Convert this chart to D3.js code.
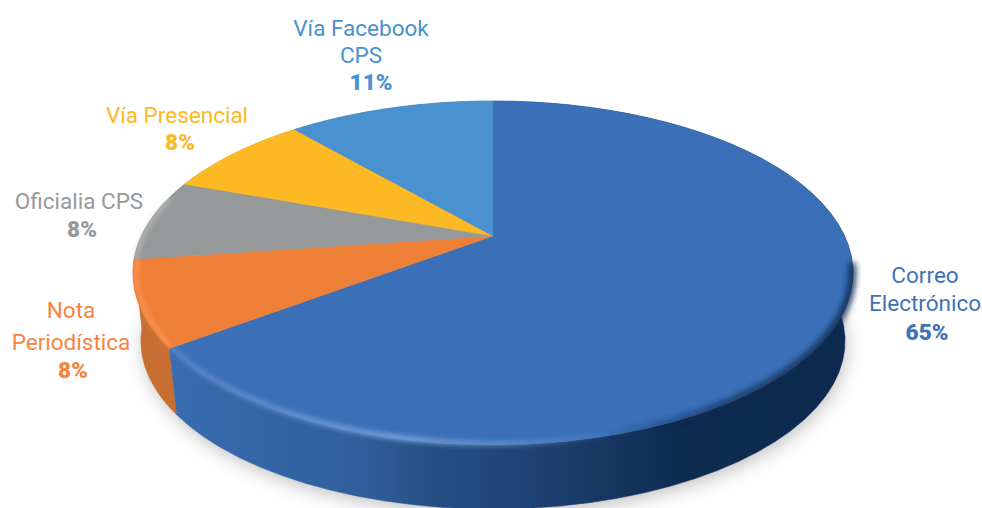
<!DOCTYPE html>
<html><head><meta charset="utf-8">
<script src="https://cdn.jsdelivr.net/npm/d3@7/dist/d3.min.js"></script>
<style>html,body{margin:0;background:#fff;overflow:hidden}svg{display:block}
text{font-family:"Roboto",sans-serif}</style></head>
<body><svg id="c" width="982" height="508"></svg>
<script>
const categories = ["Correo Electrónico","Nota Periodística","Oficialia CPS","Vía Presencial","Vía Facebook CPS"];
const values = [64.8,8.0,7.7,8.1,11.4];
const colors = ["#3b70b8","#ee7f37","#96999a","#fdb924","#4a91cf"];
const sideColors = ["url(#blueSide)","#c76f32","#7d8081","#c9921c","#3a74a8"];
const labelColors = ["#3f72b9","#f5843f","#96999a","#fdb924","#4a91cf"];
const labelLines = [["Correo","Electrónico"],["Nota","Periodística"],["Oficialia CPS"],["Vía Presencial"],["Vía Facebook","CPS"]];
const labelX = [925,71,79,177,361];
const labelY = [[283,311,340],[318,350,378],[209,237],[123,150],[36,63,90]];
const percentX = [927,73,82,180,371];

const W=982,H=508, cx=493, cy=236, A=351.6, B=164, k=0.215;
const midY=273, baseY=341, baseS=0.978;
const svg=d3.select("#c"), defs=svg.append("defs");

const top2=t=>{const u=Math.sin(t),v=Math.cos(t),d=1+k*v;return [cx+A*u/d,cy-B*v/d];};
const base=p=>[cx+baseS*(p[0]-cx),baseY+baseS*(p[1]-midY)];
const line=d3.line();
const arcs=d3.pie().sort(null)(values);
const samples=(a,b)=>d3.range(0,61).map(i=>a+(b-a)*i/60);

function grad(id,stops){
  const g=defs.append("linearGradient").attr("id",id).attr("gradientUnits","userSpaceOnUse")
    .attr("x1",130).attr("x2",860).attr("y1",0).attr("y2",0);
  stops.forEach(s=>g.append("stop").attr("offset",(s[0]-130)/730).attr("stop-color",s[1]).attr("stop-opacity",s[2]===undefined?1:s[2]));
}
grad("blueSide",[[170,"#3a6cb2"],[290,"#3263a4"],[370,"#2f5e9b"],[430,"#264f86"],[530,"#1f4274"],[600,"#183862"],[680,"#0e2b50"],[860,"#0d2a4e"]]);
grad("rimLight",[[170,"#7ea6de",.3],[300,"#7ea6de",.6],[400,"#7ea6de",.8],[510,"#7ea6de",.45],[620,"#7ea6de",0],[860,"#7ea6de",0]]);
grad("rimDark",[[600,"#0d2a4e",0],[720,"#0d2a4e",.8],[860,"#0d2a4e",1]]);
[["b1",9],["b2",2.2],["b3",3]].forEach(([id,s])=>defs.append("filter").attr("id",id)
  .attr("x","-10%").attr("y","-10%").attr("width","120%").attr("height","120%")
  .append("feGaussianBlur").attr("stdDeviation",s));

const full=samples(0,2*Math.PI);
// shadow
svg.append("path").attr("d",line(full.map(t=>{const p=base(top2(t));return [p[0]+2,p[1]+5];}))+"Z")
  .attr("fill","#a9a9a9").attr("opacity",.7).attr("filter","url(#b1)");

// sides, back to front
const order=[3,4,2,1,0];
svg.append("g").selectAll("path").data(order).join("path").attr("d",i=>{
  const a=arcs[i], pts=samples(a.startAngle,a.endAngle).map(top2);
  return line(pts.concat(pts.map(base).reverse()))+"Z";
}).attr("fill",i=>sideColors[i]).attr("stroke",i=>sideColors[i]).attr("stroke-width",.5);

// top faces
const apexed=a=>line([[cx,cy]].concat(samples(a.startAngle,a.endAngle).map(top2)))+"Z";
svg.append("g").selectAll("path").data(arcs).join("path").attr("d",apexed)
  .attr("fill",(d,i)=>colors[i]).attr("stroke",(d,i)=>colors[i]).attr("stroke-width",.4);

// bevel
const g=svg.append("g");
const inset=(s,t)=>{const p=top2(t);return [cx+s*(p[0]-cx),midY+s*(p[1]-midY)];};
const rimPath=(a,b,s)=>line(samples(a,b).map(t=>inset(s,t)));
const fr=arcs[0];
g.append("path").attr("d",rimPath(Math.PI*0.55,fr.endAngle,0.993)).attr("fill","none")
  .attr("stroke","url(#rimLight)").attr("stroke-width",6).attr("filter","url(#b2)");
g.append("path").attr("d",rimPath(Math.PI*0.55,Math.PI*1.1,0.998)).attr("fill","none")
  .attr("stroke","url(#rimDark)").attr("stroke-width",7).attr("filter","url(#b3)");
g.append("path").attr("d",rimPath(arcs[1].startAngle+.01,arcs[1].endAngle,0.99)).attr("fill","none")
  .attr("stroke","#ff9d5c").attr("stroke-width",5).attr("opacity",.6).attr("filter","url(#b2)");
g.append("path").attr("d",rimPath(arcs[2].startAngle+.01,arcs[2].endAngle-.1,0.995)).attr("fill","none")
  .attr("stroke","#c4c6c6").attr("stroke-width",3).attr("opacity",.8).attr("filter","url(#b2)");

// labels
const lab=svg.append("g").attr("text-anchor","middle");
categories.forEach((c,i)=>{
  labelLines[i].forEach((l,j)=>lab.append("text").attr("x",labelX[i]).attr("y",labelY[i][j])
    .attr("font-size",22.5).attr("fill",labelColors[i]).text(l));
  lab.append("text").attr("x",percentX[i]).attr("y",labelY[i][labelLines[i].length])
    .attr("font-size",22.5).attr("font-weight",900).attr("fill",labelColors[i]).text(d3.format(".0f")(values[i])+"%");
});
</script></body></html>
